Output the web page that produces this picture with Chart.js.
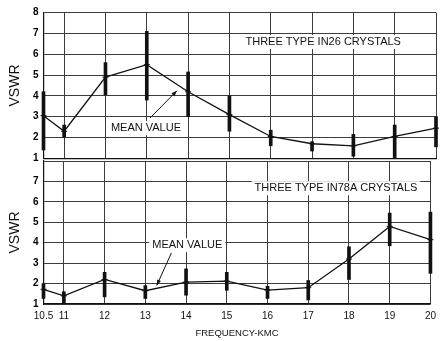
<!DOCTYPE html>
<html>
<head>
<meta charset="utf-8">
<script src="https://cdn.jsdelivr.net/npm/chart.js@4/dist/chart.umd.min.js"></script>
<style>
  html, body { margin: 0; padding: 0; background: #fff; }
  #wrap { position: relative; width: 442px; height: 341px; background: #fff; overflow: hidden; }
  canvas { position: absolute; left: 0; }
</style>
</head>
<body>
<div id="wrap">
  <canvas id="top" width="442" height="170" style="top:0"></canvas>
  <canvas id="bot" width="442" height="191" style="top:150px"></canvas>
</div>
<script>
// frequency (kmc) and tick positions
const freq = [10.5, 11, 12, 13, 14, 15, 16, 17, 18, 19, 20];
const xTicks = [10.5, 11, 12, 13, 14, 15, 16, 17, 18, 19, 20];
const yTicks = [1, 2, 3, 4, 5, 6, 7, 8];

// IN26 crystals: mean VSWR and spread
const in26Mean = [3.05, 2.3, 4.9, 5.5, 4.2, 3.1, 2.05, 1.7, 1.6, 2.05, 2.45];
const in26Low  = [1.4, 2.0, 4.05, 3.8, 3.0, 2.3, 1.6, 1.35, 1.1, 1.0, 1.55];
const in26High = [4.2, 2.6, 5.6, 7.1, 5.15, 4.0, 2.35, 1.8, 2.15, 2.6, 3.0];

// IN78A crystals
const in78Mean = [1.72, 1.4, 2.2, 1.65, 2.07, 2.12, 1.68, 1.8, 3.2, 4.8, 4.15];
const in78Low  = [1.27, 1.03, 1.35, 1.27, 1.43, 1.67, 1.27, 1.2, 2.2, 3.85, 2.5];
const in78High = [2.0, 1.6, 2.55, 1.9, 2.72, 2.55, 1.87, 2.15, 3.8, 5.45, 5.5];

const INK = "#111";
const GRID = "#3c3c3c";
const FONT = "'Liberation Sans', Arial, sans-serif";

// text labels with a white box, plus arrows, placed in data units
const notesPlugin = {
  id: "notes",
  beforeDatasetsDraw(chart, args, opts) {
    const { ctx } = chart;
    const x = chart.scales.x, y = chart.scales.y;
    ctx.save();
    ctx.font = "11px " + FONT;
    ctx.textAlign = "center";
    ctx.textBaseline = "middle";
    for (const n of opts.labels || []) {
      const px = x.getPixelForValue(n.x), py = y.getPixelForValue(n.y);
      const w = ctx.measureText(n.text).width;
      ctx.fillStyle = "#fff";
      ctx.fillRect(px - w / 2 - 3, py - 7, w + 6, 14);
      ctx.fillStyle = INK;
      ctx.fillText(n.text, px, py);
    }
    ctx.strokeStyle = INK;
    ctx.fillStyle = INK;
    ctx.lineWidth = 1;
    for (const a of opts.arrows || []) {
      const x1 = x.getPixelForValue(a.from[0]), y1 = y.getPixelForValue(a.from[1]);
      const x2 = x.getPixelForValue(a.to[0]), y2 = y.getPixelForValue(a.to[1]);
      ctx.beginPath();
      ctx.moveTo(x1, y1);
      ctx.lineTo(x2, y2);
      ctx.stroke();
      const ang = Math.atan2(y2 - y1, x2 - x1);
      ctx.beginPath();
      ctx.moveTo(x2, y2);
      ctx.lineTo(x2 - 6 * Math.cos(ang - 0.35), y2 - 6 * Math.sin(ang - 0.35));
      ctx.lineTo(x2 - 6 * Math.cos(ang + 0.35), y2 - 6 * Math.sin(ang + 0.35));
      ctx.closePath();
      ctx.fill();
    }
    ctx.restore();
  },
};

function makeDatasets(mean, low, high) {
  return [
    {
      type: "line",
      data: freq.map((f, i) => ({ x: f, y: mean[i] })),
      borderColor: INK,
      borderWidth: 1.3,
      pointStyle: "line",
      pointRadius: 3,
      pointBorderColor: INK,
      pointBorderWidth: 1,
      tension: 0,
      clip: false,
      order: 1,
    },
    {
      type: "bar",
      data: freq.map((f, i) => ({ x: f, y: [low[i], high[i]] })),
      backgroundColor: INK,
      borderWidth: 0,
      barThickness: 3,
      grouped: false,
      clip: false,
      order: 2,
    },
  ];
}

function makeOptions(isBottom, notes) {
  return {
    responsive: false,
    animation: false,
    layout: {
      padding: isBottom
        ? { left: 0, right: 6, top: 8.3, bottom: 0 }
        : { left: 0, right: 6, top: 12.7, bottom: 11.7 },
    },
    scales: {
      x: {
        type: "linear",
        min: 10.5,
        max: 20,
        offset: false,
        afterBuildTicks: (s) => { s.ticks = xTicks.map((v) => ({ value: v })); },
        afterFit: (s) => { s.height = isBottom ? 37 : 0; },
        grid: { color: GRID, lineWidth: 1, drawTicks: false, offset: false },
        border: { color: INK, width: 1.2 },
        ticks: {
          display: isBottom,
          color: INK,
          padding: 6,
          maxRotation: 0,
          autoSkip: false,
          font: { family: FONT, size: 10 },
          callback: (v) => String(v),
        },
        title: {
          display: isBottom,
          text: "FREQUENCY-KMC",
          color: INK,
          font: { family: FONT, size: 9.5 },
          padding: { top: 0, bottom: 2 },
        },
      },
      y: {
        min: 1,
        max: 8,
        afterBuildTicks: (s) => { s.ticks = yTicks.map((v) => ({ value: v })); },
        afterFit: (s) => { s.width = 43.5; },
        grid: { color: GRID, lineWidth: 1, drawTicks: false },
        border: { color: INK, width: 1.2 },
        ticks: {
          color: "#000",
          padding: 5,
          font: { family: FONT, size: 10, weight: "bold" },
          callback: (v) => (isBottom && v === 8 ? "" : String(v)),
        },
        title: {
          display: true,
          text: "VSWR",
          color: INK,
          font: { family: FONT, size: 14 },
          padding: { top: 7, bottom: 0 },
        },
      },
    },
    plugins: {
      legend: { display: false },
      tooltip: { enabled: false },
      notes,
    },
  };
}

new Chart(document.getElementById("top"), {
  type: "line",
  data: { datasets: makeDatasets(in26Mean, in26Low, in26High) },
  options: makeOptions(false, {
    labels: [
      { text: "THREE TYPE IN26 CRYSTALS", x: 17.27, y: 6.59 },
      { text: "MEAN VALUE", x: 12.98, y: 2.45 },
    ],
    arrows: [{ from: [13.08, 2.94], to: [13.73, 4.25] }],
  }),
  plugins: [notesPlugin],
});

new Chart(document.getElementById("bot"), {
  type: "line",
  data: { datasets: makeDatasets(in78Mean, in78Low, in78High) },
  options: makeOptions(true, {
    labels: [
      { text: "THREE TYPE IN78A CRYSTALS", x: 17.68, y: 6.67 },
      { text: "MEAN VALUE", x: 14.03, y: 3.88 },
    ],
    arrows: [{ from: [13.64, 3.5], to: [13.28, 1.91] }],
  }),
  plugins: [notesPlugin],
});
</script>
</body>
</html>
